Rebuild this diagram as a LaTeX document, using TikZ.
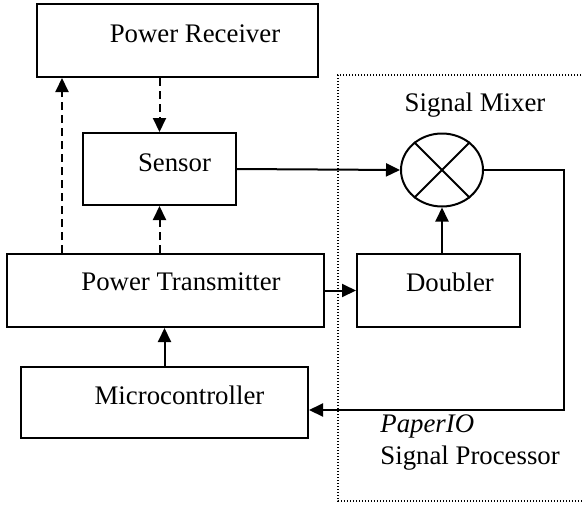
\documentclass[tikz,border=0pt]{standalone}
\usepackage{fontspec}
\setmainfont{Liberation Serif}
\usetikzlibrary{shapes.geometric,arrows.meta}
\tikzset{
  blk/.style={draw,line width=1pt,inner sep=0pt},
  txt/.style={inner sep=0pt,font=\fontsize{13.4}{15}\selectfont},
  arr/.style={line width=1pt,-{Triangle[length=7pt,width=6.5pt]}},
  dsh/.style={arr,dash pattern=on 4pt off 2.5pt}
}
\begin{document}
\begin{tikzpicture}[x=0.5pt,y=-0.5pt]
  \useasboundingbox (0,0) rectangle (583,504);
  % Signal processor frame
  \draw[line width=0.6pt,dash pattern=on 0.6pt off 0.9pt] (590,75) -| (338,501) -- (590,501);
  % Blocks
  \node[blk,minimum width=140.5pt,minimum height=36.5pt] (rec) at (177.5,40.5) {};
  \node[txt] at (195,34) {Power Receiver};
  \node[blk,minimum width=76.5pt,minimum height=36pt] (sen) at (159.5,169) {};
  \node[txt] at (174.5,163) {Sensor};
  \node[blk,minimum width=158.5pt,minimum height=36.5pt] (pt) at (165.5,290.5) {};
  \node[txt] at (181,282) {Power Transmitter};
  \node[blk,minimum width=143.5pt,minimum height=35.5pt] (mc) at (164.5,402.5) {};
  \node[txt] at (179.5,395) {Microcontroller};
  \node[blk,minimum width=81.5pt,minimum height=36.5pt] (dbl) at (438.5,290.5) {};
  \node[txt] at (450,282) {Doubler};
  % Mixer
  \node[blk,ellipse,minimum width=41pt,minimum height=36.5pt] (mix) at (442,170) {};
  \draw[line width=0.9pt] (mix.45) -- (mix.-135) (mix.135) -- (mix.-45);
  \node[txt] at (475,105) {Signal Mixer};
  \node[txt,anchor=west] at (380,426) {\itshape PaperIO};
  \node[txt,anchor=west] at (380,458) {Signal Processor};
  % Wireless links
  \draw[dsh] (sen.north |- rec.south) -- (sen.north);
  \draw[dsh] (sen.south |- pt.north) -- (sen.south);
  \draw[dsh] ([xshift=13pt]pt.north -| rec.west) -- ([xshift=13pt]rec.south west);
  % Signal path
  \draw[arr] (mc.north) -- (mc.north |- pt.south);
  \draw[arr] (pt.east) -- (dbl.west);
  \draw[arr] (sen.east) -- (mix.west);
  \draw[arr] (mix.south |- dbl.north) -- (mix.south);
  \draw[arr] (mix.east) -- ++(80,0) |- ([yshift=-3.75pt]mc.east);
\end{tikzpicture}
\end{document}
